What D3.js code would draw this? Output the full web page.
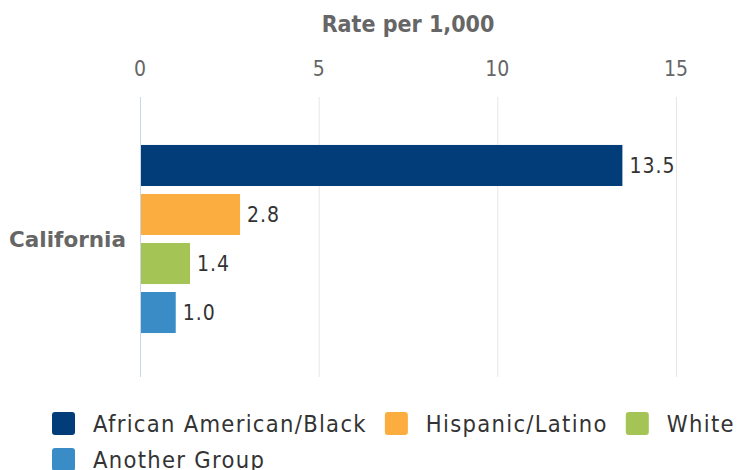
<!DOCTYPE html>
<html>
<head>
<meta charset="utf-8">
<script src="https://cdn.jsdelivr.net/npm/d3@7"></script>
<style>
  body { margin: 0; background: #fff; }
  svg { display: block; }
</style>
</head>
<body>
<svg id="chart" width="737" height="470"></svg>
<script>
const categories = ["California"];
const seriesNames = ["African American/Black", "Hispanic/Latino", "White", "Another Group"];
const seriesColors = ["#023d7a", "#fbae3f", "#a5c456", "#3a8cc6"];
const values = [13.5, 2.8, 1.4, 1.0];
const xTicks = [0, 5, 10, 15];

const width = 737;
const height = 470;
const margin = { top: 97, right: 61, bottom: 93, left: 140 };
const condensed = "'DejaVu Sans Condensed', 'DejaVu Sans', sans-serif";

const svg = d3.select("#chart");

const x = d3
  .scaleLinear()
  .domain([0, 15])
  .range([margin.left, width - margin.right]);

const y0 = d3
  .scaleBand()
  .domain(categories)
  .range([margin.top + 2, height - margin.bottom + 2])
  .paddingOuter(0.214);

const y1 = d3
  .scaleBand()
  .domain(seriesNames)
  .range([0, y0.bandwidth()])
  .paddingInner(0.163)
  .paddingOuter(0.0816);

// grid lines
svg
  .append("g")
  .selectAll("line")
  .data(xTicks)
  .join("line")
  .attr("x1", (d) => x(d) + 0.5)
  .attr("x2", (d) => x(d) + 0.5)
  .attr("y1", margin.top)
  .attr("y2", height - margin.bottom)
  .attr("stroke", (d) => (d === 0 ? "#ccd6eb" : "#e6e6e6"))
  .attr("stroke-width", 1);

// top axis labels
svg
  .append("g")
  .selectAll("text")
  .data(xTicks)
  .join("text")
  .attr("x", (d) => x(d))
  .attr("y", 76)
  .attr("text-anchor", "middle")
  .attr("fill", "#666")
  .attr("font-family", condensed)
  .attr("font-size", 21)
  .text((d) => d);

svg
  .append("text")
  .attr("x", (x(0) + x(15)) / 2)
  .attr("y", 32)
  .attr("text-anchor", "middle")
  .attr("fill", "#666")
  .attr("font-family", condensed)
  .attr("font-weight", "bold")
  .attr("font-size", 23)
  .text("Rate per 1,000");

// category label
svg
  .append("g")
  .selectAll("text")
  .data(categories)
  .join("text")
  .attr("x", margin.left - 14)
  .attr("y", (d) => y0(d) + y0.bandwidth() / 2)
  .attr("dy", "0.35em")
  .attr("text-anchor", "end")
  .attr("fill", "#666")
  .attr("font-family", "'DejaVu Sans', sans-serif")
  .attr("font-weight", "bold")
  .attr("font-size", 21.5)
  .text((d) => d);

// bars
const rows = seriesNames.map((name, i) => ({
  name,
  value: values[i],
  color: seriesColors[i],
  category: categories[0],
}));

svg
  .append("g")
  .selectAll("rect")
  .data(rows)
  .join("rect")
  .attr("x", x(0) + 1)
  .attr("y", (d) => y0(d.category) + y1(d.name))
  .attr("width", (d) => x(d.value) - x(0) - 1)
  .attr("height", y1.bandwidth())
  .attr("fill", (d) => d.color);

svg
  .append("g")
  .selectAll("text")
  .data(rows)
  .join("text")
  .attr("x", (d) => x(d.value) + 7)
  .attr("y", (d) => y0(d.category) + y1(d.name) + y1.bandwidth() / 2)
  .attr("dy", "0.35em")
  .attr("fill", "#333")
  .attr("font-family", condensed)
  .attr("font-size", 21)
  .attr("letter-spacing", 1)
  .text((d) => d3.format(".1f")(d.value));

// legend
const legend = svg.append("g");
const legendRows = [
  [0, 1, 2],
  [3],
];
legendRows.forEach((row, r) => {
  let cx = 52;
  const cy = 423 + r * 36;
  row.forEach((i) => {
    legend
      .append("rect")
      .attr("x", cx)
      .attr("y", cy - 11)
      .attr("width", 23)
      .attr("height", 23)
      .attr("rx", 3)
      .attr("fill", seriesColors[i]);
    const label = legend
      .append("text")
      .attr("x", cx + 41)
      .attr("y", cy + 1)
      .attr("dy", "0.35em")
      .attr("fill", "#333")
      .attr("font-family", condensed)
      .attr("font-size", 23.5)
      .attr("letter-spacing", 1.3)
      .text(seriesNames[i]);
    cx += 41 + label.node().getComputedTextLength() + 18;
  });
});
</script>
</body>
</html>
